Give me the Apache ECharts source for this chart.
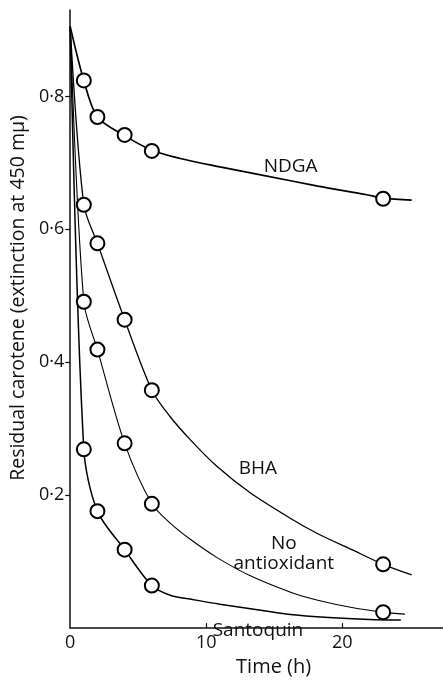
<!DOCTYPE html>
<html>
<head>
<meta charset="utf-8">
<script src="https://cdn.jsdelivr.net/npm/echarts@6/dist/echarts.min.js"></script>
<style>
  html, body { margin: 0; padding: 0; background: #fff; }
  #main { width: 443px; height: 682px; }
</style>
</head>
<body>
<div id="main"></div>
<script>
const FONT = '"Open Sans", Lato, "DejaVu Sans", sans-serif'

// measured points: time (h) vs extinction at 450 mu
const hours = [1, 2, 4, 6, 23]
const ndgaPts = [0.824, 0.769, 0.742, 0.718, 0.646]
const bhaPts = [0.637, 0.579, 0.464, 0.358, 0.096]
const noAntiPts = [0.491, 0.419, 0.278, 0.187, 0.024]
const santoquinPts = [0.269, 0.176, 0.118, 0.064]

// hand-drawn curves
const ndgaCurve = [[0, 0.905], [1, 0.824], [2, 0.769], [4, 0.741], [6, 0.719], [8, 0.707], [11, 0.694], [14, 0.682], [18.2, 0.665], [21.8, 0.652], [23, 0.647], [25.1, 0.644]]
const bhaCurve = [[0, 0.905], [1, 0.637], [2, 0.579], [4, 0.464], [6, 0.358], [7.35, 0.318], [8.8, 0.284], [10.8, 0.243], [13.2, 0.204], [16.2, 0.165], [18.2, 0.142], [20.7, 0.118], [23, 0.096], [25.1, 0.08]]
const noAntiCurve = [[0, 0.905], [1, 0.491], [2, 0.419], [4, 0.278], [6, 0.187], [7.35, 0.158], [8.8, 0.134], [10.8, 0.106], [13.2, 0.079], [16.2, 0.054], [18.2, 0.042], [20.7, 0.031], [23, 0.024], [24.6, 0.021]]
const santoquinCurve = [[0, 0.905], [1, 0.269], [2, 0.176], [4, 0.118], [6, 0.064], [7.4, 0.049], [9, 0.043], [11, 0.036], [14, 0.027], [16, 0.021], [19, 0.016], [22, 0.013], [24.3, 0.012]]

const yTicks = [0.2, 0.4, 0.6, 0.8]
const xTicks = [0, 10, 20]
const xInnerTicks = [10, 20]

const curveLabels = [
  { text: 'NDGA', at: [16.2, 0.694] },
  { text: 'BHA', at: [13.8, 0.240] },
  { text: 'No\nantioxidant', at: [15.7, 0.112] },
  { text: 'Santoquin', at: [13.8, -0.003] }
]

const pts = (vals) => vals.map((v, i) => [hours[i], v])

const lineSeries = (data, width) => ({
  type: 'line',
  data,
  smooth: 0.3,
  showSymbol: false,
  silent: true,
  lineStyle: { color: '#000', width },
  z: 2
})

const circleSeries = (data) => ({
  type: 'scatter',
  data,
  symbol: 'circle',
  symbolSize: 14,
  itemStyle: { color: '#fff', borderColor: '#000', borderWidth: 2, opacity: 1 },
  z: 3
})

const chart = echarts.init(document.getElementById('main'))

chart.setOption({
  animation: false,
  backgroundColor: '#fff',
  grid: { left: 70, right: 0, top: 10, bottom: 49 },
  xAxis: {
    type: 'value',
    min: 0,
    max: 27.4,
    name: 'Time (h)',
    nameLocation: 'middle',
    nameGap: 24,
    nameTextStyle: { fontFamily: FONT, fontSize: 20, color: '#111', padding: [0, 0, 0, 34] },
    splitLine: { show: false },
    axisLine: { lineStyle: { color: '#111', width: 1.5 } },
    axisTick: { inside: true, length: 5, customValues: xInnerTicks, lineStyle: { color: '#111', width: 1.2 } },
    axisLabel: { customValues: xTicks, fontFamily: FONT, fontSize: 18, color: '#111', margin: 6 }
  },
  yAxis: {
    type: 'value',
    min: 0,
    max: 0.93,
    name: 'Residual carotene (extinction at 450 m\u03bc)',
    nameLocation: 'middle',
    nameGap: 26,
    nameRotate: 90,
    nameTextStyle: { fontFamily: FONT, fontSize: 19.5, color: '#111', padding: [0, 0, 0, 42] },
    splitLine: { show: false },
    axisLine: { lineStyle: { color: '#111', width: 1.5 } },
    axisTick: { length: 5, customValues: yTicks, lineStyle: { color: '#111', width: 1.2 } },
    axisLabel: {
      customValues: yTicks,
      fontFamily: FONT,
      fontSize: 18,
      color: '#111',
      margin: 6,
      formatter: (v) => v.toFixed(1).replace('.', '\u00b7')
    }
  },
  series: [
    lineSeries(ndgaCurve, 1.7),
    lineSeries(bhaCurve, 1.3),
    lineSeries(noAntiCurve, 1.1),
    lineSeries(santoquinCurve, 1.5),
    circleSeries(pts(ndgaPts)),
    circleSeries(pts(bhaPts)),
    circleSeries(pts(noAntiPts)),
    circleSeries(pts(santoquinPts))
  ]
})

chart.setOption({
  graphic: curveLabels.map((l) => {
    const [x, y] = chart.convertToPixel({ gridIndex: 0 }, l.at)
    return {
      type: 'text',
      x,
      y,
      z: 10,
      style: {
        text: l.text,
        fontFamily: FONT,
        fontSize: 19,
        lineHeight: 20,
        fill: '#111',
        align: 'center',
        verticalAlign: 'middle'
      }
    }
  })
})
</script>
</body>
</html>
